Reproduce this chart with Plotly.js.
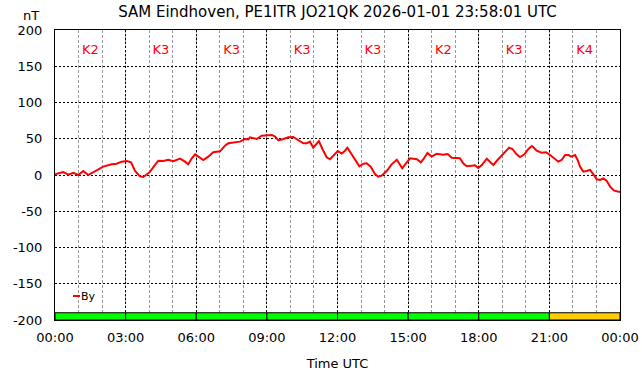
<!DOCTYPE html>
<html>
<head>
<meta charset="utf-8">
<script src="https://cdn.plot.ly/plotly-3.0.1.min.js"></script>
<style>html,body{margin:0;padding:0;background:#fff;}#chart{width:642px;height:376px;}</style>
</head>
<body>
<div id="chart"></div>
<script>
// Time in hours UTC (2026-01-01)
const hours = [0.00,0.35,0.57,0.78,0.99,1.20,1.41,1.70,2.05,2.41,2.62,2.83,3.05,3.23,3.40,3.61,3.75,3.96,
  4.04,4.25,4.39,4.60,4.81,5.03,5.31,5.52,5.66,5.81,5.95,6.09,6.30,6.51,6.72,7.01,7.22,7.36,7.65,7.86,8.07,8.21,
  8.28,8.57,8.78,8.99,9.21,9.35,9.49,9.70,9.91,10.12,10.34,10.55,10.69,10.83,10.97,11.12,11.21,11.36,11.54,11.68,11.87,12.01,12.18,12.32,
  12.42,12.60,12.74,12.93,13.10,13.24,13.41,13.59,13.73,13.87,14.09,14.30,14.52,14.63,14.75,14.91,15.08,15.37,15.54,15.65,15.82,16.00,
  16.21,16.49,16.68,16.85,17.06,17.20,17.34,17.49,17.70,17.84,17.98,18.13,18.34,18.48,18.62,18.76,18.98,19.12,19.29,19.43,19.61,19.75,19.94,20.11,
  20.25,20.32,20.46,20.67,20.86,21.03,21.20,21.38,21.52,21.67,21.81,21.91,22.09,22.20,22.30,22.44,22.58,22.73,22.87,23.01,23.15,23.29,23.43,23.58,23.75,23.89,24.00];
const byValues = [1,4,0.5,3,0,5.5,0,5.5,11.5,14.7,15.6,18.4,19.3,17.5,5.5,-1.8,-2.8,2.3,
  4.6,14,19.7,19.3,21,18.9,22.5,18.4,14.7,23,28.5,25.3,20.7,25.3,31.3,32.7,40.4,43.7,44.6,46,49.7,49,
  52,49.7,54.3,55.2,55.2,52.9,47.8,49.7,52,52.4,48.3,43.7,43.7,46,37.7,43.7,46.9,35.9,24.4,21.7,28.5,33.1,29.6,33.5,
  37.7,28.5,20.7,12,15.6,16.1,11.5,1.4,-2.3,-0.9,5.5,14.7,21,16.1,9.2,16.1,23,21.7,17.5,21.7,30.3,25.5,
  29.2,28,29,23.9,23.9,23,16.1,12,12.9,13.3,9.7,13.8,22.5,18.4,13.8,19.3,26.7,31.3,37.7,35.9,28.5,24.8,28.5,35.9,
  40,38.2,33.6,30.8,31.3,27.6,23,18.4,20.7,27.6,27.6,25.3,27.6,20.7,11.5,4.6,5.5,6.9,1,-6,-6.9,-4.6,-7.8,-16,-21.6,-23,-23.4];

// K index per 3-hour block
const kStart = [0,3,6,9,12,15,18,21];
const kIndex = [2,3,3,3,3,2,3,4];
const kLabels = kIndex.map(k => 'K' + k);

// Axis ticks
const xTickVals = [0,3,6,9,12,15,18,21,24];
const xTickText = ['00:00','03:00','06:00','09:00','12:00','15:00','18:00','21:00','00:00'];
const yTickVals = [200,150,100,50,0,-50,-100,-150,-200];
const yTickText = ['200','150','100','50','0','-50','-100','-150','-200'];

const FONT = 'DejaVu Sans, Verdana, sans-serif';
const kColors = kIndex.map(k => k >= 4 ? '#ffcc00' : '#00ff00');
const kCenters = kStart.map(s => s + 1.5);

const traces = [
  {
    type: 'bar', x: kCenters, y: kIndex.map(() => 10), base: -200, width: 3,
    marker: {color: kColors, line: {color: '#000', width: 1}},
    showlegend: false, hoverinfo: 'skip'
  },
  {
    type: 'scatter', mode: 'text', x: kCenters, y: kIndex.map(() => 172), text: kLabels,
    textfont: {family: FONT, size: 13, color: '#ff0000'}, textposition: 'middle center',
    showlegend: false, hoverinfo: 'skip'
  },
  {
    type: 'scatter', mode: 'lines', name: 'By', x: hours, y: byValues,
    line: {color: '#ff0000', width: 2}, showlegend: false
  }
];

const layout = {
  width: 642, height: 376,
  margin: {l: 55, r: 22, t: 30, b: 56},
  paper_bgcolor: '#ffffff', plot_bgcolor: '#ffffff',
  font: {family: FONT, size: 13, color: '#000'},
  bargap: 0,
  title: {text: 'SAM Eindhoven, PE1ITR JO21QK 2026-01-01 23:58:01 UTC', font: {family: FONT, size: 15, color: '#000'},
          x: 0.5, xref: 'paper', y: 1 - 12/376, yref: 'container', yanchor: 'middle'},
  xaxis: {
    range: [0, 24], tickmode: 'array', tickvals: xTickVals, ticktext: xTickText,
    showgrid: true, gridcolor: '#000', griddash: '2px,2px', gridwidth: 1,
    minor: {tick0: 0, dtick: 1, showgrid: true, gridcolor: '#999999', griddash: '3px,2px', gridwidth: 1, ticks: ''},
    showline: true, linecolor: '#000', linewidth: 1, mirror: true, zeroline: false,
    ticks: '', ticklabelstandoff: 5, tickfont: {family: FONT, size: 13, color: '#000'},
    title: {text: 'Time UTC', font: {family: FONT, size: 13, color: '#000'}, standoff: 15},
    fixedrange: true
  },
  yaxis: {
    range: [-200, 200], tickmode: 'array', tickvals: yTickVals, ticktext: yTickText,
    showgrid: true, gridcolor: '#000', griddash: '2px,2px', gridwidth: 1,
    showline: true, linecolor: '#000', linewidth: 1, mirror: true, zeroline: false,
    ticks: '', ticklabelstandoff: 9, tickfont: {family: FONT, size: 13, color: '#000'},
    fixedrange: true
  },
  annotations: [
    {text: 'nT', xref: 'paper', yref: 'paper', x: (31-55)/565, y: (320-15)/290, xanchor: 'center', yanchor: 'middle',
     showarrow: false, font: {family: FONT, size: 13, color: '#000'}},
    {text: 'By', xref: 'paper', yref: 'paper', x: (79-55)/565, y: (320-296)/290, xanchor: 'left', yanchor: 'middle',
     showarrow: false, font: {family: FONT, size: 11, color: '#000'}}
  ],
  shapes: [
    {type: 'line', xref: 'paper', yref: 'paper', x0: (73-55)/565, x1: (80-55)/565, y0: (320-296)/290, y1: (320-296)/290,
     line: {color: '#ff0000', width: 2}}
  ],
  showlegend: false
};

Plotly.newPlot('chart', traces, layout, {displayModeBar: false, staticPlot: true});
</script>
</body>
</html>
